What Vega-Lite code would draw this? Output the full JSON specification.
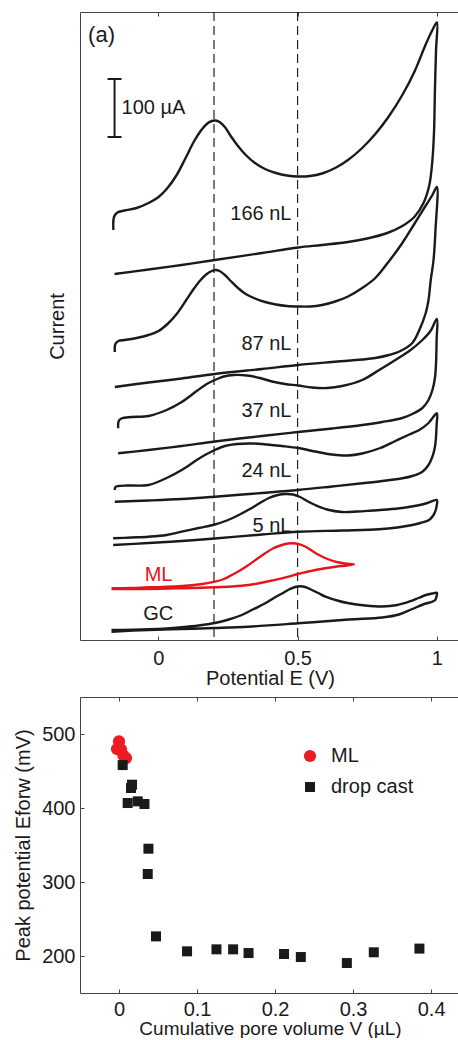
{
"$schema": "https://vega.github.io/schema/vega-lite/v6.json",
"padding": {"left": 13, "top": 11, "right": 0, "bottom": 0},
"spacing": 8,
"resolve": {"scale": {"color": "independent", "shape": "independent", "size": "independent"}},
"config": {
  "view": {"stroke": null},
  "font": "Liberation Sans",
  "axis": {"domainColor": "#444", "tickColor": "#444", "labelColor": "#1a1a1a", "titleColor": "#1a1a1a", "labelFontSize": 20, "titleFontSize": 20, "titleFontWeight": "normal", "grid": false, "labelFont": "Liberation Sans", "titleFont": "Liberation Sans", "domainWidth": 1, "tickWidth": 1},
  "text": {"font": "Liberation Sans", "fontSize": 20, "color": "#1a1a1a"}
},
"vconcat": [
{
  "width": 380, "height": 628,
  "layer": [
    {
      "data": {"values": [{"E": 0.2}, {"E": 0.5}]},
      "mark": {"type": "rule", "strokeDash": [9, 5], "strokeWidth": 1.2, "color": "#222"},
      "encoding": {
        "x": {"field": "E", "type": "quantitative", "scale": {"domain": [-0.281, 1.083], "nice": false, "zero": false},
              "axis": {"orient": "top", "values": [0, 0.5, 1], "labels": false, "tickSize": -4, "title": null}}
      }
    },
    {
      "data": {"values": [
        {"curve":"166 nL","seq":1,"E":-0.161,"I":410},{"curve":"166 nL","seq":2,"E":-0.159,"I":423},{"curve":"166 nL","seq":3,"E":-0.147,"I":427.5},{"curve":"166 nL","seq":4,"E":-0.121,"I":429.5},{"curve":"166 nL","seq":5,"E":-0.078,"I":432},{"curve":"166 nL","seq":6,"E":-0.035,"I":437},{"curve":"166 nL","seq":7,"E":0.001,"I":443},{"curve":"166 nL","seq":8,"E":0.033,"I":452},{"curve":"166 nL","seq":9,"E":0.066,"I":465},{"curve":"166 nL","seq":10,"E":0.098,"I":482},{"curve":"166 nL","seq":11,"E":0.127,"I":498},{"curve":"166 nL","seq":12,"E":0.152,"I":509},{"curve":"166 nL","seq":13,"E":0.174,"I":516},{"curve":"166 nL","seq":14,"E":0.192,"I":519},{"curve":"166 nL","seq":15,"E":0.206,"I":519.5},{"curve":"166 nL","seq":16,"E":0.220,"I":518},{"curve":"166 nL","seq":17,"E":0.239,"I":513},{"curve":"166 nL","seq":18,"E":0.260,"I":504},{"curve":"166 nL","seq":19,"E":0.286,"I":494},{"curve":"166 nL","seq":20,"E":0.314,"I":485},{"curve":"166 nL","seq":21,"E":0.347,"I":477},{"curve":"166 nL","seq":22,"E":0.383,"I":471},{"curve":"166 nL","seq":23,"E":0.422,"I":467},{"curve":"166 nL","seq":24,"E":0.462,"I":464.5},{"curve":"166 nL","seq":25,"E":0.502,"I":463.5},{"curve":"166 nL","seq":26,"E":0.545,"I":464},{"curve":"166 nL","seq":27,"E":0.588,"I":466.5},{"curve":"166 nL","seq":28,"E":0.635,"I":472},{"curve":"166 nL","seq":29,"E":0.681,"I":480},{"curve":"166 nL","seq":30,"E":0.732,"I":492},{"curve":"166 nL","seq":31,"E":0.779,"I":506},{"curve":"166 nL","seq":32,"E":0.826,"I":523},{"curve":"166 nL","seq":33,"E":0.876,"I":545},{"curve":"166 nL","seq":34,"E":0.919,"I":568},{"curve":"166 nL","seq":35,"E":0.959,"I":595},{"curve":"166 nL","seq":36,"E":0.984,"I":610},{"curve":"166 nL","seq":37,"E":1.0,"I":617.5},{"curve":"166 nL","seq":38,"E":0.997,"I":590},{"curve":"166 nL","seq":39,"E":0.993,"I":550},{"curve":"166 nL","seq":40,"E":0.990,"I":510},{"curve":"166 nL","seq":41,"E":0.984,"I":480},{"curve":"166 nL","seq":42,"E":0.973,"I":455},{"curve":"166 nL","seq":43,"E":0.952,"I":437},{"curve":"166 nL","seq":44,"E":0.919,"I":423},{"curve":"166 nL","seq":45,"E":0.876,"I":414},{"curve":"166 nL","seq":46,"E":0.822,"I":407},{"curve":"166 nL","seq":47,"E":0.750,"I":401.5},{"curve":"166 nL","seq":48,"E":0.681,"I":398},{"curve":"166 nL","seq":49,"E":0.588,"I":395},{"curve":"166 nL","seq":50,"E":0.502,"I":392.5},{"curve":"166 nL","seq":51,"E":0.372,"I":387},{"curve":"166 nL","seq":52,"E":0.203,"I":380},{"curve":"166 nL","seq":53,"E":0.084,"I":375},{"curve":"166 nL","seq":54,"E":-0.035,"I":370.5},{"curve":"166 nL","seq":55,"E":-0.157,"I":366},
        {"curve":"87 nL","seq":1,"E":-0.156,"I":288},{"curve":"87 nL","seq":2,"E":-0.154,"I":296},{"curve":"87 nL","seq":3,"E":-0.143,"I":299},{"curve":"87 nL","seq":4,"E":-0.121,"I":300},{"curve":"87 nL","seq":5,"E":-0.078,"I":302},{"curve":"87 nL","seq":6,"E":-0.035,"I":305},{"curve":"87 nL","seq":7,"E":0.001,"I":309},{"curve":"87 nL","seq":8,"E":0.033,"I":316},{"curve":"87 nL","seq":9,"E":0.066,"I":326},{"curve":"87 nL","seq":10,"E":0.098,"I":339},{"curve":"87 nL","seq":11,"E":0.127,"I":351},{"curve":"87 nL","seq":12,"E":0.152,"I":360},{"curve":"87 nL","seq":13,"E":0.174,"I":366},{"curve":"87 nL","seq":14,"E":0.192,"I":369},{"curve":"87 nL","seq":15,"E":0.206,"I":370},{"curve":"87 nL","seq":16,"E":0.220,"I":369},{"curve":"87 nL","seq":17,"E":0.239,"I":365},{"curve":"87 nL","seq":18,"E":0.260,"I":359},{"curve":"87 nL","seq":19,"E":0.286,"I":352},{"curve":"87 nL","seq":20,"E":0.314,"I":346},{"curve":"87 nL","seq":21,"E":0.347,"I":341.5},{"curve":"87 nL","seq":22,"E":0.383,"I":338},{"curve":"87 nL","seq":23,"E":0.422,"I":335.5},{"curve":"87 nL","seq":24,"E":0.462,"I":334},{"curve":"87 nL","seq":25,"E":0.502,"I":333.5},{"curve":"87 nL","seq":26,"E":0.545,"I":333.5},{"curve":"87 nL","seq":27,"E":0.588,"I":335},{"curve":"87 nL","seq":28,"E":0.635,"I":338.5},{"curve":"87 nL","seq":29,"E":0.681,"I":343.5},{"curve":"87 nL","seq":30,"E":0.732,"I":352},{"curve":"87 nL","seq":31,"E":0.779,"I":362},{"curve":"87 nL","seq":32,"E":0.826,"I":378},{"curve":"87 nL","seq":33,"E":0.876,"I":397},{"curve":"87 nL","seq":34,"E":0.919,"I":416},{"curve":"87 nL","seq":35,"E":0.959,"I":434},{"curve":"87 nL","seq":36,"E":0.984,"I":445},{"curve":"87 nL","seq":37,"E":1.0,"I":453},{"curve":"87 nL","seq":38,"E":0.995,"I":410},{"curve":"87 nL","seq":39,"E":0.988,"I":380},{"curve":"87 nL","seq":40,"E":0.978,"I":360},{"curve":"87 nL","seq":41,"E":0.970,"I":340},{"curve":"87 nL","seq":42,"E":0.960,"I":327},{"curve":"87 nL","seq":43,"E":0.937,"I":310},{"curve":"87 nL","seq":44,"E":0.912,"I":297},{"curve":"87 nL","seq":45,"E":0.869,"I":289},{"curve":"87 nL","seq":46,"E":0.828,"I":285},{"curve":"87 nL","seq":47,"E":0.779,"I":282},{"curve":"87 nL","seq":48,"E":0.732,"I":280.5},{"curve":"87 nL","seq":49,"E":0.624,"I":278},{"curve":"87 nL","seq":50,"E":0.502,"I":275},{"curve":"87 nL","seq":51,"E":0.372,"I":271},{"curve":"87 nL","seq":52,"E":0.203,"I":266},{"curve":"87 nL","seq":53,"E":0.084,"I":261.5},{"curve":"87 nL","seq":54,"E":-0.035,"I":257.5},{"curve":"87 nL","seq":55,"E":-0.156,"I":253},
        {"curve":"37 nL","seq":1,"E":-0.144,"I":211.7},{"curve":"37 nL","seq":2,"E":-0.142,"I":219},{"curve":"37 nL","seq":3,"E":-0.132,"I":221.5},{"curve":"37 nL","seq":4,"E":-0.096,"I":223},{"curve":"37 nL","seq":5,"E":-0.035,"I":224},{"curve":"37 nL","seq":6,"E":0.030,"I":230},{"curve":"37 nL","seq":7,"E":0.084,"I":238},{"curve":"37 nL","seq":8,"E":0.138,"I":249},{"curve":"37 nL","seq":9,"E":0.174,"I":256},{"curve":"37 nL","seq":10,"E":0.203,"I":260},{"curve":"37 nL","seq":11,"E":0.235,"I":263.5},{"curve":"37 nL","seq":12,"E":0.271,"I":265},{"curve":"37 nL","seq":13,"E":0.318,"I":264.5},{"curve":"37 nL","seq":14,"E":0.365,"I":262},{"curve":"37 nL","seq":15,"E":0.408,"I":258.5},{"curve":"37 nL","seq":16,"E":0.455,"I":256},{"curve":"37 nL","seq":17,"E":0.502,"I":254.5},{"curve":"37 nL","seq":18,"E":0.552,"I":252.5},{"curve":"37 nL","seq":19,"E":0.606,"I":252},{"curve":"37 nL","seq":20,"E":0.660,"I":254},{"curve":"37 nL","seq":21,"E":0.732,"I":260},{"curve":"37 nL","seq":22,"E":0.793,"I":270},{"curve":"37 nL","seq":23,"E":0.851,"I":280},{"curve":"37 nL","seq":24,"E":0.901,"I":289},{"curve":"37 nL","seq":25,"E":0.948,"I":300},{"curve":"37 nL","seq":26,"E":0.977,"I":309},{"curve":"37 nL","seq":27,"E":1.0,"I":321},{"curve":"37 nL","seq":28,"E":0.999,"I":300},{"curve":"37 nL","seq":29,"E":0.997,"I":277},{"curve":"37 nL","seq":30,"E":0.993,"I":262},{"curve":"37 nL","seq":31,"E":0.984,"I":250},{"curve":"37 nL","seq":32,"E":0.970,"I":240},{"curve":"37 nL","seq":33,"E":0.948,"I":232},{"curve":"37 nL","seq":34,"E":0.912,"I":226},{"curve":"37 nL","seq":35,"E":0.876,"I":222},{"curve":"37 nL","seq":36,"E":0.804,"I":218},{"curve":"37 nL","seq":37,"E":0.732,"I":215},{"curve":"37 nL","seq":38,"E":0.624,"I":211.5},{"curve":"37 nL","seq":39,"E":0.502,"I":208},{"curve":"37 nL","seq":40,"E":0.372,"I":204},{"curve":"37 nL","seq":41,"E":0.203,"I":198.5},{"curve":"37 nL","seq":42,"E":0.084,"I":194},{"curve":"37 nL","seq":43,"E":-0.035,"I":190},{"curve":"37 nL","seq":44,"E":-0.144,"I":186.7},
        {"curve":"24 nL","seq":1,"E":-0.156,"I":150},{"curve":"24 nL","seq":2,"E":-0.154,"I":153},{"curve":"24 nL","seq":3,"E":-0.143,"I":154},{"curve":"24 nL","seq":4,"E":-0.114,"I":154.5},{"curve":"24 nL","seq":5,"E":-0.035,"I":155},{"curve":"24 nL","seq":6,"E":0.030,"I":162},{"curve":"24 nL","seq":7,"E":0.084,"I":170},{"curve":"24 nL","seq":8,"E":0.138,"I":180},{"curve":"24 nL","seq":9,"E":0.174,"I":186},{"curve":"24 nL","seq":10,"E":0.203,"I":190},{"curve":"24 nL","seq":11,"E":0.239,"I":194},{"curve":"24 nL","seq":12,"E":0.282,"I":196},{"curve":"24 nL","seq":13,"E":0.336,"I":196.5},{"curve":"24 nL","seq":14,"E":0.390,"I":195.5},{"curve":"24 nL","seq":15,"E":0.444,"I":194},{"curve":"24 nL","seq":16,"E":0.502,"I":192},{"curve":"24 nL","seq":17,"E":0.563,"I":188.5},{"curve":"24 nL","seq":18,"E":0.624,"I":185.5},{"curve":"24 nL","seq":19,"E":0.681,"I":184.5},{"curve":"24 nL","seq":20,"E":0.732,"I":186.5},{"curve":"24 nL","seq":21,"E":0.797,"I":192},{"curve":"24 nL","seq":22,"E":0.851,"I":199},{"curve":"24 nL","seq":23,"E":0.901,"I":205.5},{"curve":"24 nL","seq":24,"E":0.937,"I":210},{"curve":"24 nL","seq":25,"E":0.970,"I":217},{"curve":"24 nL","seq":26,"E":1.0,"I":226.7},{"curve":"24 nL","seq":27,"E":0.999,"I":215},{"curve":"24 nL","seq":28,"E":0.997,"I":203.3},{"curve":"24 nL","seq":29,"E":0.993,"I":193},{"curve":"24 nL","seq":30,"E":0.984,"I":183.3},{"curve":"24 nL","seq":31,"E":0.970,"I":175},{"curve":"24 nL","seq":32,"E":0.948,"I":168.3},{"curve":"24 nL","seq":33,"E":0.912,"I":164},{"curve":"24 nL","seq":34,"E":0.876,"I":161.7},{"curve":"24 nL","seq":35,"E":0.804,"I":159},{"curve":"24 nL","seq":36,"E":0.732,"I":156.7},{"curve":"24 nL","seq":37,"E":0.624,"I":153.5},{"curve":"24 nL","seq":38,"E":0.502,"I":150},{"curve":"24 nL","seq":39,"E":0.372,"I":147},{"curve":"24 nL","seq":40,"E":0.203,"I":143.3},{"curve":"24 nL","seq":41,"E":0.084,"I":141},{"curve":"24 nL","seq":42,"E":-0.035,"I":139.5},{"curve":"24 nL","seq":43,"E":-0.156,"I":138.3},
        {"curve":"5 nL","seq":1,"E":-0.162,"I":101.7},{"curve":"5 nL","seq":2,"E":-0.096,"I":102.5},{"curve":"5 nL","seq":3,"E":-0.035,"I":103.3},{"curve":"5 nL","seq":4,"E":0.030,"I":105},{"curve":"5 nL","seq":5,"E":0.084,"I":108.3},{"curve":"5 nL","seq":6,"E":0.145,"I":112},{"curve":"5 nL","seq":7,"E":0.203,"I":115.5},{"curve":"5 nL","seq":8,"E":0.246,"I":119.5},{"curve":"5 nL","seq":9,"E":0.289,"I":125},{"curve":"5 nL","seq":10,"E":0.329,"I":131},{"curve":"5 nL","seq":11,"E":0.365,"I":137},{"curve":"5 nL","seq":12,"E":0.397,"I":142},{"curve":"5 nL","seq":13,"E":0.429,"I":145},{"curve":"5 nL","seq":14,"E":0.458,"I":146},{"curve":"5 nL","seq":15,"E":0.484,"I":145.5},{"curve":"5 nL","seq":16,"E":0.509,"I":143},{"curve":"5 nL","seq":17,"E":0.534,"I":139},{"curve":"5 nL","seq":18,"E":0.563,"I":135},{"curve":"5 nL","seq":19,"E":0.606,"I":130.5},{"curve":"5 nL","seq":20,"E":0.660,"I":128},{"curve":"5 nL","seq":21,"E":0.714,"I":128.5},{"curve":"5 nL","seq":22,"E":0.768,"I":129.5},{"curve":"5 nL","seq":23,"E":0.822,"I":130.5},{"curve":"5 nL","seq":24,"E":0.876,"I":132},{"curve":"5 nL","seq":25,"E":0.930,"I":134.5},{"curve":"5 nL","seq":26,"E":0.966,"I":137},{"curve":"5 nL","seq":27,"E":1.0,"I":140},{"curve":"5 nL","seq":28,"E":0.999,"I":134},{"curve":"5 nL","seq":29,"E":0.996,"I":130},{"curve":"5 nL","seq":30,"E":0.988,"I":125},{"curve":"5 nL","seq":31,"E":0.972,"I":120},{"curve":"5 nL","seq":32,"E":0.941,"I":117},{"curve":"5 nL","seq":33,"E":0.912,"I":115},{"curve":"5 nL","seq":34,"E":0.858,"I":112.5},{"curve":"5 nL","seq":35,"E":0.792,"I":110.7},{"curve":"5 nL","seq":36,"E":0.660,"I":109.5},{"curve":"5 nL","seq":37,"E":0.502,"I":108.3},{"curve":"5 nL","seq":38,"E":0.372,"I":105.5},{"curve":"5 nL","seq":39,"E":0.203,"I":101.5},{"curve":"5 nL","seq":40,"E":0.084,"I":99},{"curve":"5 nL","seq":41,"E":-0.035,"I":97},{"curve":"5 nL","seq":42,"E":-0.162,"I":95},
        {"curve":"ML","seq":1,"E":-0.168,"I":51.7},{"curve":"ML","seq":2,"E":-0.096,"I":52},{"curve":"ML","seq":3,"E":-0.035,"I":52.7},{"curve":"ML","seq":4,"E":0.030,"I":53.2},{"curve":"ML","seq":5,"E":0.084,"I":54},{"curve":"ML","seq":6,"E":0.145,"I":55.5},{"curve":"ML","seq":7,"E":0.203,"I":58.3},{"curve":"ML","seq":8,"E":0.235,"I":61},{"curve":"ML","seq":9,"E":0.264,"I":65},{"curve":"ML","seq":10,"E":0.293,"I":69.5},{"curve":"ML","seq":11,"E":0.324,"I":75},{"curve":"ML","seq":12,"E":0.354,"I":81},{"curve":"ML","seq":13,"E":0.384,"I":86.7},{"curve":"ML","seq":14,"E":0.411,"I":91.5},{"curve":"ML","seq":15,"E":0.444,"I":95},{"curve":"ML","seq":16,"E":0.466,"I":96.5},{"curve":"ML","seq":17,"E":0.484,"I":96.7},{"curve":"ML","seq":18,"E":0.502,"I":96},{"curve":"ML","seq":19,"E":0.523,"I":94},{"curve":"ML","seq":20,"E":0.545,"I":90.5},{"curve":"ML","seq":21,"E":0.570,"I":86},{"curve":"ML","seq":22,"E":0.599,"I":82},{"curve":"ML","seq":23,"E":0.635,"I":78.3},{"curve":"ML","seq":24,"E":0.671,"I":76.5},{"curve":"ML","seq":25,"E":0.702,"I":75.7},{"curve":"ML","seq":26,"E":0.678,"I":74.5},{"curve":"ML","seq":27,"E":0.636,"I":73.3},{"curve":"ML","seq":28,"E":0.564,"I":70},{"curve":"ML","seq":29,"E":0.502,"I":66},{"curve":"ML","seq":30,"E":0.444,"I":61.7},{"curve":"ML","seq":31,"E":0.383,"I":58},{"curve":"ML","seq":32,"E":0.324,"I":55},{"curve":"ML","seq":33,"E":0.264,"I":53.5},{"curve":"ML","seq":34,"E":0.204,"I":52.7},{"curve":"ML","seq":35,"E":0.084,"I":51.7},{"curve":"ML","seq":36,"E":-0.036,"I":51},{"curve":"ML","seq":37,"E":-0.168,"I":51},
        {"curve":"GC","seq":1,"E":-0.168,"I":10},{"curve":"GC","seq":2,"E":-0.096,"I":10.3},{"curve":"GC","seq":3,"E":-0.035,"I":10.7},{"curve":"GC","seq":4,"E":0.030,"I":11.5},{"curve":"GC","seq":5,"E":0.084,"I":12.7},{"curve":"GC","seq":6,"E":0.145,"I":14.5},{"curve":"GC","seq":7,"E":0.203,"I":17},{"curve":"GC","seq":8,"E":0.253,"I":20.5},{"curve":"GC","seq":9,"E":0.300,"I":25},{"curve":"GC","seq":10,"E":0.343,"I":31},{"curve":"GC","seq":11,"E":0.384,"I":36.7},{"curve":"GC","seq":12,"E":0.415,"I":42},{"curve":"GC","seq":13,"E":0.444,"I":46.5},{"curve":"GC","seq":14,"E":0.469,"I":50.5},{"curve":"GC","seq":15,"E":0.491,"I":53},{"curve":"GC","seq":16,"E":0.509,"I":53.7},{"curve":"GC","seq":17,"E":0.527,"I":53},{"curve":"GC","seq":18,"E":0.548,"I":50.5},{"curve":"GC","seq":19,"E":0.574,"I":47},{"curve":"GC","seq":20,"E":0.600,"I":43.3},{"curve":"GC","seq":21,"E":0.642,"I":39.5},{"curve":"GC","seq":22,"E":0.684,"I":36.7},{"curve":"GC","seq":23,"E":0.743,"I":34.5},{"curve":"GC","seq":24,"E":0.804,"I":33.5},{"curve":"GC","seq":25,"E":0.858,"I":35},{"curve":"GC","seq":26,"E":0.900,"I":38.3},{"curve":"GC","seq":27,"E":0.934,"I":42},{"curve":"GC","seq":28,"E":0.960,"I":45},{"curve":"GC","seq":29,"E":0.984,"I":46.5},{"curve":"GC","seq":30,"E":1.0,"I":47.3},{"curve":"GC","seq":31,"E":0.998,"I":43},{"curve":"GC","seq":32,"E":0.994,"I":40},{"curve":"GC","seq":33,"E":0.981,"I":38},{"curve":"GC","seq":34,"E":0.960,"I":36.5},{"curve":"GC","seq":35,"E":0.912,"I":31},{"curve":"GC","seq":36,"E":0.864,"I":25.5},{"curve":"GC","seq":37,"E":0.804,"I":22.5},{"curve":"GC","seq":38,"E":0.684,"I":20.5},{"curve":"GC","seq":39,"E":0.502,"I":16.7},{"curve":"GC","seq":40,"E":0.324,"I":13.3},{"curve":"GC","seq":41,"E":0.203,"I":12},{"curve":"GC","seq":42,"E":0.084,"I":11},{"curve":"GC","seq":43,"E":-0.035,"I":10},{"curve":"GC","seq":44,"E":-0.168,"I":8.3}
      ]},
      "mark": {"type": "line", "interpolate": "catmull-rom", "strokeWidth": 2.4},
      "encoding": {
        "x": {"field": "E", "type": "quantitative",
              "axis": {"orient": "bottom", "values": [0, 0.5, 1], "format": "~g", "tickSize": -4, "labelPadding": 12, "titlePadding": 0, "title": "Potential E (V)"}},
        "y": {"field": "I", "type": "quantitative", "scale": {"domain": [0, 628], "nice": false, "zero": false},
              "axis": {"ticks": false, "labels": false, "title": "Current", "titlePadding": 13}},
        "color": {"field": "curve", "type": "nominal", "legend": null,
                  "scale": {"domain": ["166 nL", "87 nL", "37 nL", "24 nL", "5 nL", "ML", "GC"], "range": ["#1a1a1a", "#1a1a1a", "#1a1a1a", "#1a1a1a", "#1a1a1a", "#e8141b", "#1a1a1a"]}},
        "order": {"field": "seq", "type": "quantitative"}
      }
    },
    {
      "data": {"values": [{"E": -0.157, "I": 503, "I2": 561}]},
      "mark": {"type": "rule", "strokeWidth": 2, "color": "#1a1a1a"},
      "encoding": {
        "x": {"field": "E", "type": "quantitative", "axis": null},
        "y": {"field": "I", "type": "quantitative"},
        "y2": {"field": "I2"}
      }
    },
    {
      "data": {"values": [{"E": -0.182, "E2": -0.132, "I": 503}, {"E": -0.182, "E2": -0.132, "I": 561}]},
      "mark": {"type": "rule", "strokeWidth": 2, "color": "#1a1a1a"},
      "encoding": {
        "x": {"field": "E", "type": "quantitative", "axis": null},
        "x2": {"field": "E2"},
        "y": {"field": "I", "type": "quantitative"}
      }
    },
    {
      "data": {"values": [
        {"E": 0.478, "I": 426, "label": "166 nL"},
        {"E": 0.478, "I": 296, "label": "87 nL"},
        {"E": 0.478, "I": 229, "label": "37 nL"},
        {"E": 0.478, "I": 169, "label": "24 nL"},
        {"E": 0.478, "I": 114, "label": "5 nL"}
      ]},
      "mark": {"type": "text", "align": "right", "baseline": "middle"},
      "encoding": {
        "x": {"field": "E", "type": "quantitative", "axis": null},
        "y": {"field": "I", "type": "quantitative"},
        "text": {"field": "label"}
      }
    },
    {
      "data": {"values": [
        {"E": -0.252, "I": 605, "label": "(a)"}
      ]},
      "mark": {"type": "text", "align": "left", "baseline": "middle", "fontSize": 22},
      "encoding": {
        "x": {"field": "E", "type": "quantitative", "axis": null},
        "y": {"field": "I", "type": "quantitative"},
        "text": {"field": "label"}
      }
    },
    {
      "data": {"values": [
        {"E": -0.132, "I": 532, "label": "100 µA"}
      ]},
      "mark": {"type": "text", "align": "left", "baseline": "middle"},
      "encoding": {
        "x": {"field": "E", "type": "quantitative", "axis": null},
        "y": {"field": "I", "type": "quantitative"},
        "text": {"field": "label"}
      }
    },
    {
      "data": {"values": [{"E": 0.0, "I": 26.5, "label": "GC"}]},
      "mark": {"type": "text", "align": "center", "baseline": "middle"},
      "encoding": {
        "x": {"field": "E", "type": "quantitative", "axis": null},
        "y": {"field": "I", "type": "quantitative"},
        "text": {"field": "label"}
      }
    },
    {
      "data": {"values": [{"E": 0.001, "I": 65.5, "label": "ML"}]},
      "mark": {"type": "text", "align": "center", "baseline": "middle", "color": "#e8141b"},
      "encoding": {
        "x": {"field": "E", "type": "quantitative", "axis": null},
        "y": {"field": "I", "type": "quantitative"},
        "text": {"field": "label"}
      }
    }
  ],
  "resolve": {"axis": {"x": "independent"}}
},
{
  "width": 380, "height": 296,
  "data": {"values": [
    {"series": "ML", "V": 0.0, "mV": 490},
    {"series": "ML", "V": -0.0026, "mV": 479.7},
    {"series": "ML", "V": 0.0026, "mV": 478.8},
    {"series": "ML", "V": 0.0056, "mV": 471},
    {"series": "ML", "V": 0.009, "mV": 467.5},
    {"series": "drop cast", "V": 0.0047, "mV": 458},
    {"series": "drop cast", "V": 0.0167, "mV": 431.5},
    {"series": "drop cast", "V": 0.0154, "mV": 427},
    {"series": "drop cast", "V": 0.0111, "mV": 406.7},
    {"series": "drop cast", "V": 0.024, "mV": 409},
    {"series": "drop cast", "V": 0.0326, "mV": 405.4},
    {"series": "drop cast", "V": 0.0377, "mV": 345},
    {"series": "drop cast", "V": 0.0368, "mV": 310.8},
    {"series": "drop cast", "V": 0.0474, "mV": 226.5},
    {"series": "drop cast", "V": 0.0872, "mV": 206.3},
    {"series": "drop cast", "V": 0.1249, "mV": 209},
    {"series": "drop cast", "V": 0.1462, "mV": 209},
    {"series": "drop cast", "V": 0.166, "mV": 204},
    {"series": "drop cast", "V": 0.2115, "mV": 202.7},
    {"series": "drop cast", "V": 0.233, "mV": 198.6},
    {"series": "drop cast", "V": 0.292, "mV": 190.5},
    {"series": "drop cast", "V": 0.3265, "mV": 205},
    {"series": "drop cast", "V": 0.385, "mV": 210}
  ]},
  "layer": [
    {
      "mark": {"type": "point", "opacity": 0},
      "encoding": {
        "x": {"field": "V", "type": "quantitative", "scale": {"domain": [-0.05, 0.437], "nice": false, "zero": false},
              "axis": {"orient": "top", "values": [0, 0.1, 0.2, 0.3, 0.4], "labels": false, "tickSize": -4, "title": null}},
        "y": {"field": "mV", "type": "quantitative", "scale": {"domain": [150, 550], "nice": false, "zero": false}}
      }
    },
    {
      "mark": {"type": "point", "filled": true, "opacity": 1, "strokeWidth": 0},
      "encoding": {
        "x": {"field": "V", "type": "quantitative",
              "axis": {"orient": "bottom", "values": [0, 0.1, 0.2, 0.3, 0.4], "format": "~g", "tickSize": -4, "labelPadding": 10, "titlePadding": 0, "titleFontSize": 19, "title": "Cumulative pore volume V (µL)"}},
        "y": {"field": "mV", "type": "quantitative",
              "axis": {"values": [200, 300, 400, 500], "format": "d", "tickSize": -4, "labelPadding": 9, "titlePadding": 8, "title": "Peak potential Eforw (mV)"}},
        "color": {"field": "series", "type": "nominal", "scale": {"domain": ["ML", "drop cast"], "range": ["#ec1c24", "#1a1a1a"]},
                  "legend": {"orient": "none", "legendX": 220, "legendY": 49, "title": null, "labelFontSize": 20, "labelColor": "#1a1a1a", "labelOffset": 11, "rowPadding": 11, "padding": 0, "symbolStrokeWidth": 0}},
        "shape": {"field": "series", "type": "nominal", "scale": {"domain": ["ML", "drop cast"], "range": ["circle", "square"]}},
        "size": {"field": "series", "type": "nominal", "scale": {"domain": ["ML", "drop cast"], "range": [150, 100]}},
        "order": {"field": "mV", "type": "quantitative", "sort": "descending"}
      }
    }
  ],
  "resolve": {"axis": {"x": "independent"}}
}
]
}
